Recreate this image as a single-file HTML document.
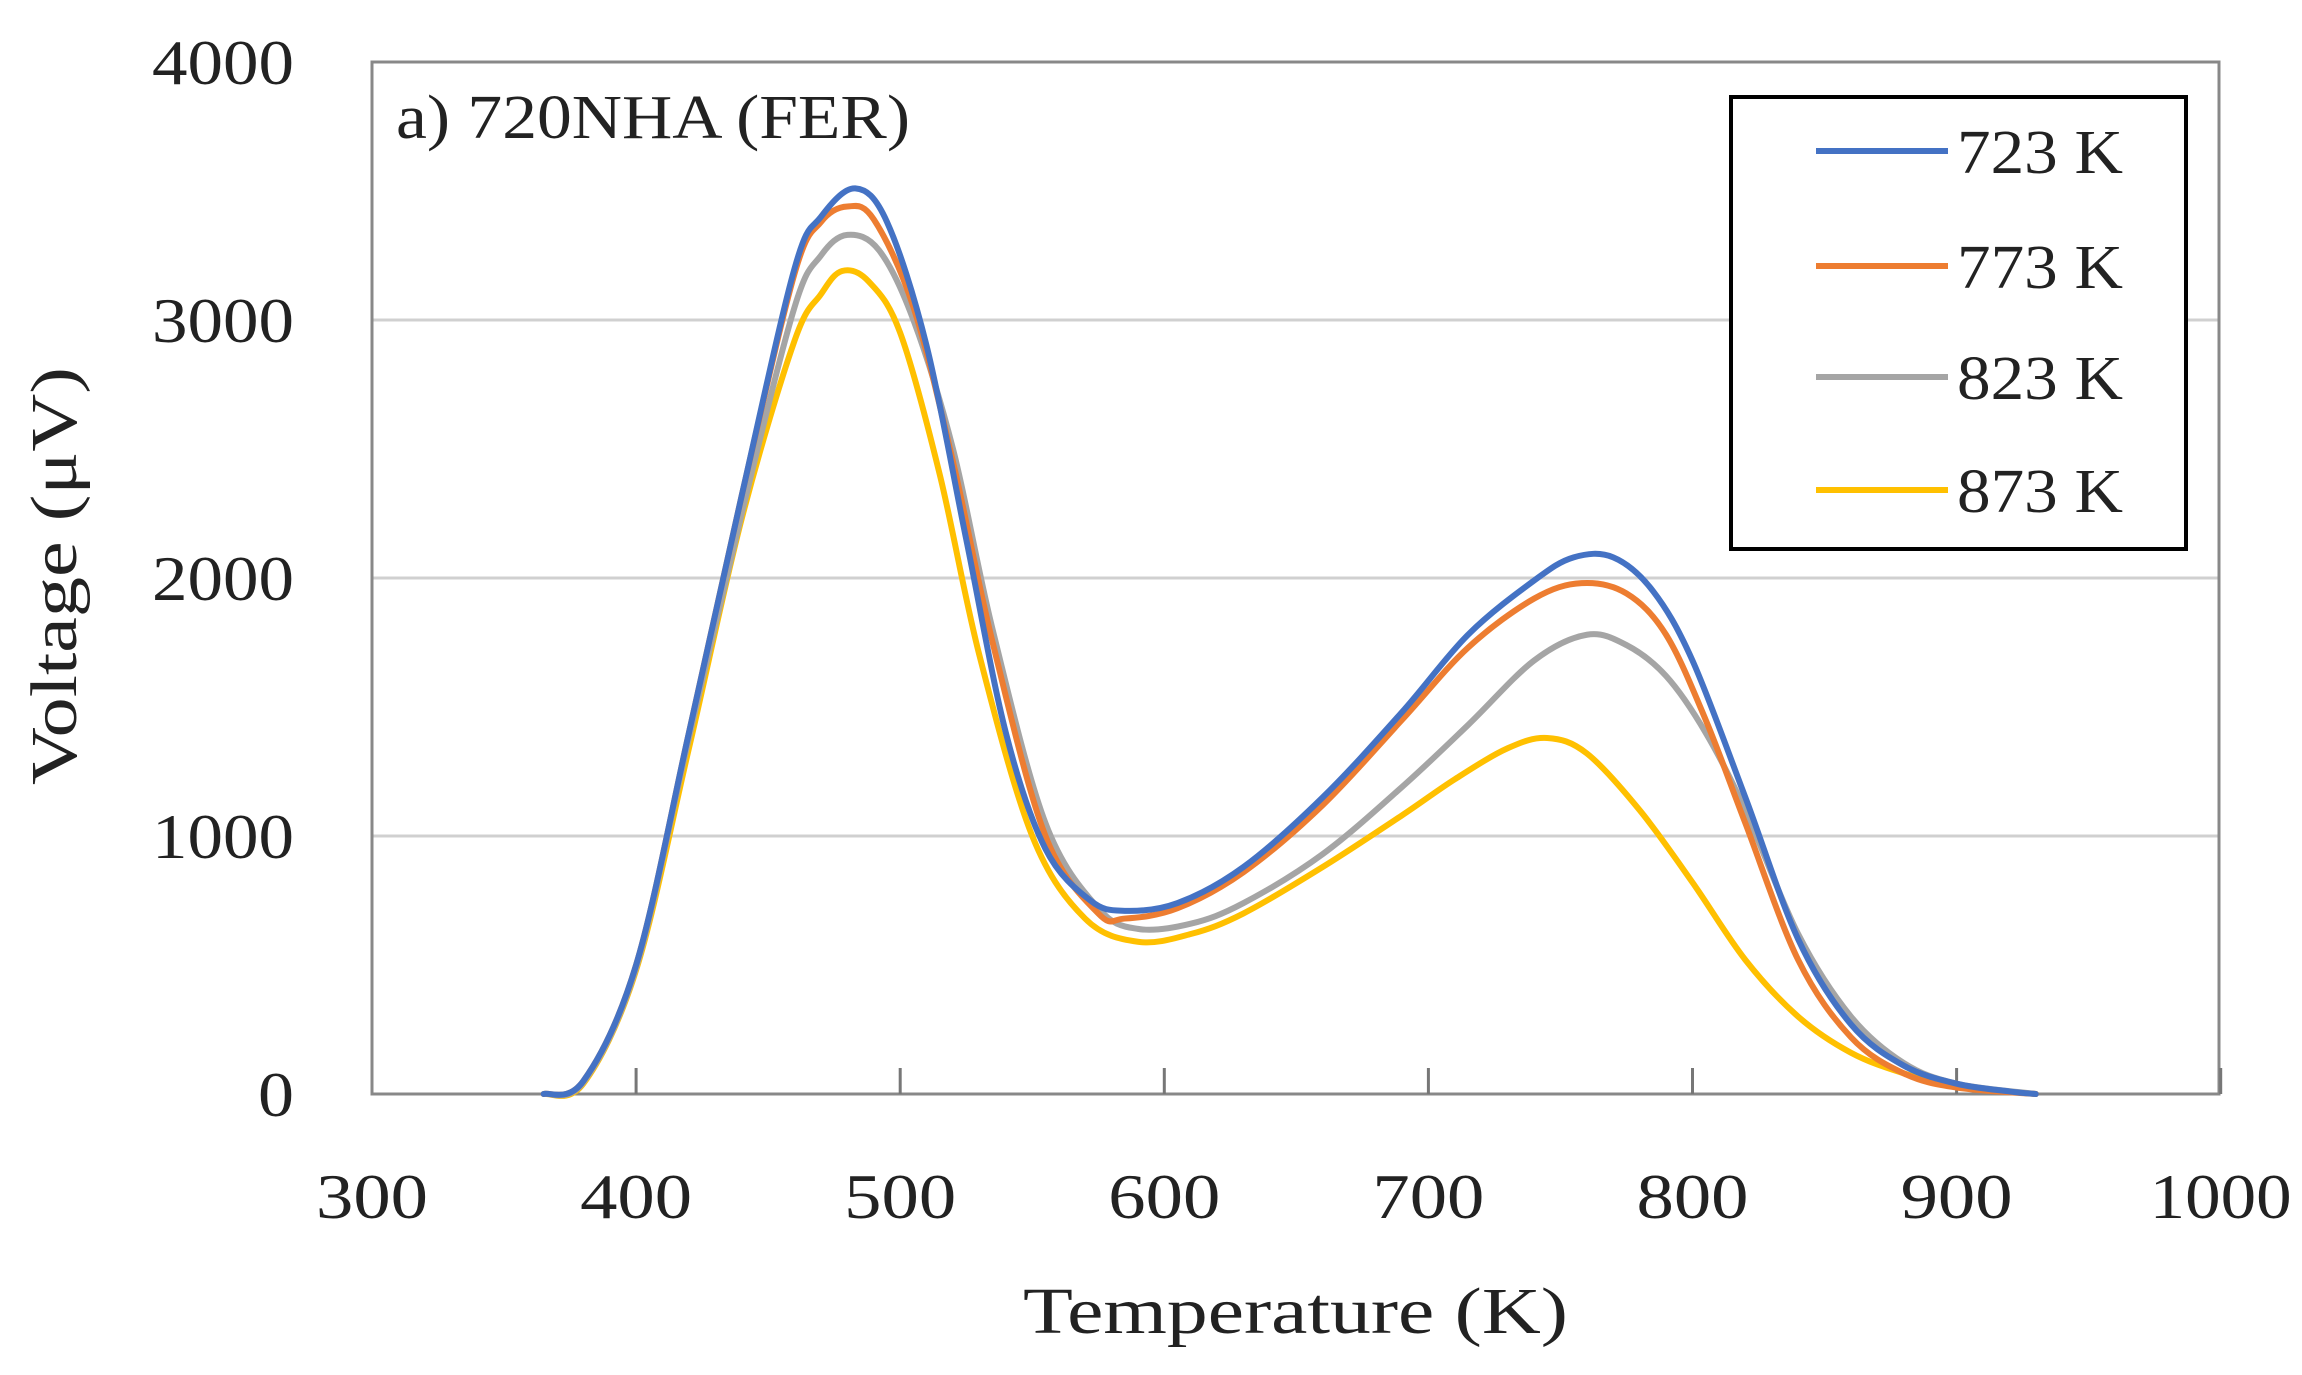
<!DOCTYPE html>
<html><head><meta charset="utf-8"><style>
html,body{margin:0;padding:0;background:#fff}
svg{display:block}
text{font-family:"Liberation Serif",serif;fill:#222}
</style></head><body>
<svg id="s" width="2302" height="1375" viewBox="0 0 2302 1375" xmlns="http://www.w3.org/2000/svg">
<rect width="2302" height="1375" fill="#fff"/>
<g stroke="#d0d0d0" stroke-width="3">
<line x1="372" y1="320" x2="2219" y2="320"/>
<line x1="372" y1="578" x2="2219" y2="578"/>
<line x1="372" y1="836" x2="2219" y2="836"/>
</g>
<rect x="372" y="62" width="1847" height="1032" fill="none" stroke="#888" stroke-width="3"/>
<g stroke="#777" stroke-width="3" id="ticks"></g>
<g id="curves" fill="none" stroke-width="6" stroke-linejoin="round" stroke-linecap="round"></g>
<g font-size="64" text-anchor="end">
<text x="294" y="1116" textLength="36" lengthAdjust="spacingAndGlyphs">0</text>
<text x="294" y="858" textLength="142" lengthAdjust="spacingAndGlyphs">1000</text>
<text x="294" y="600" textLength="142" lengthAdjust="spacingAndGlyphs">2000</text>
<text x="294" y="342" textLength="142" lengthAdjust="spacingAndGlyphs">3000</text>
<text x="294" y="84" textLength="142" lengthAdjust="spacingAndGlyphs">4000</text>
</g>
<g font-size="64" text-anchor="middle" id="xl"></g>
<text x="1023" y="1333" font-size="66" textLength="545" lengthAdjust="spacingAndGlyphs">Temperature (K)</text>
<text transform="translate(76,785) rotate(-90)" font-size="66" textLength="418" lengthAdjust="spacingAndGlyphs">Voltage (μV)</text>
<text x="396" y="138" font-size="62" textLength="514" lengthAdjust="spacingAndGlyphs">a) 720NHA (FER)</text>
<rect x="1731" y="97" width="455" height="452" fill="#fff" stroke="#000" stroke-width="4"/>
<g stroke-width="6">
<line x1="1816" y1="151" x2="1948" y2="151" stroke="#4472c4"/>
<line x1="1816" y1="266" x2="1948" y2="266" stroke="#ed7d31"/>
<line x1="1816" y1="377" x2="1948" y2="377" stroke="#a5a5a5"/>
<line x1="1816" y1="490" x2="1948" y2="490" stroke="#ffc000"/>
</g>
<g font-size="62">
<text x="1957" y="173" textLength="166" lengthAdjust="spacingAndGlyphs">723 K</text>
<text x="1957" y="288" textLength="166" lengthAdjust="spacingAndGlyphs">773 K</text>
<text x="1957" y="399" textLength="166" lengthAdjust="spacingAndGlyphs">823 K</text>
<text x="1957" y="512" textLength="166" lengthAdjust="spacingAndGlyphs">873 K</text>
</g>
</svg>
<script>
const X=t=>372+(t-300)*2.641, Y=v=>1094-v*0.258;
let tk=document.getElementById('ticks'),xl=document.getElementById('xl'),h='',l='';
for(let t=300;t<=1000;t+=100){if(t>300)h+=`<line x1="${X(t)}" y1="1094" x2="${X(t)}" y2="1068"/>`;l+=`<text x="${X(t)}" y="1218" textLength="${t<1000?112:142}" lengthAdjust="spacingAndGlyphs">${t}</text>`;}
tk.innerHTML=h;xl.innerHTML=l;
const D={
"#ffc000":[[365,0],[380,40],[400,480],[420,1340],[440,2230],[460,2920],[470,3100],[478,3190],[488,3150],[500,2950],[515,2400],[530,1700],[550,1000],[570,680],[590,590],[610,620],[630,700],[660,880],[690,1080],[710,1220],[730,1340],[745,1380],[760,1320],[780,1100],[800,820],[820,520],[840,300],[860,160],[880,80],[900,30],[930,0]],
"#a5a5a5":[[365,0],[380,45],[400,490],[420,1380],[440,2250],[460,3050],[470,3250],[480,3330],[492,3270],[505,3000],[520,2500],[535,1800],[555,1050],[575,720],[590,640],[610,660],[630,740],[660,930],[690,1190],[715,1430],[740,1680],[760,1780],[775,1740],[790,1620],[805,1400],[820,1100],[840,620],[860,300],[880,120],[900,40],[930,0]],
"#ed7d31":[[365,0],[380,50],[400,500],[420,1400],[440,2320],[460,3180],[470,3380],[480,3440],[490,3390],[505,3050],[520,2450],[535,1750],[555,1000],[575,700],[585,680],[605,720],[630,860],[660,1120],[690,1450],[715,1730],[740,1920],[758,1980],[775,1940],[790,1780],[805,1450],[820,1050],[840,520],[860,220],[880,80],[900,25],[930,0]],
"#4472c4":[[365,0],[380,50],[400,500],[420,1400],[440,2320],[460,3200],[470,3400],[483,3510],[495,3380],[510,2900],[525,2150],[540,1400],[555,950],[572,750],[585,710],[605,740],[630,880],[660,1150],[690,1480],[715,1780],[740,1990],[755,2080],[770,2080],[785,1950],[800,1680],[820,1150],[840,600],[860,270],[880,110],[900,40],[920,10],[930,0]]};
let g='';
for(const c in D){const p=D[c].map(([t,v])=>[X(t),Y(v)]);let d=`M${p[0][0]},${p[0][1]}`;
for(let i=0;i<p.length-1;i++){const a=p[Math.max(0,i-1)],b=p[i],e=p[i+1],f=p[Math.min(p.length-1,i+2)];
d+=` C${b[0]+(e[0]-a[0])/6},${b[1]+(e[1]-a[1])/6} ${e[0]-(f[0]-b[0])/6},${e[1]-(f[1]-b[1])/6} ${e[0]},${e[1]}`;}
g+=`<path d="${d}" stroke="${c}"/>`;}
document.getElementById('curves').innerHTML=g;
</script>
</body></html>
